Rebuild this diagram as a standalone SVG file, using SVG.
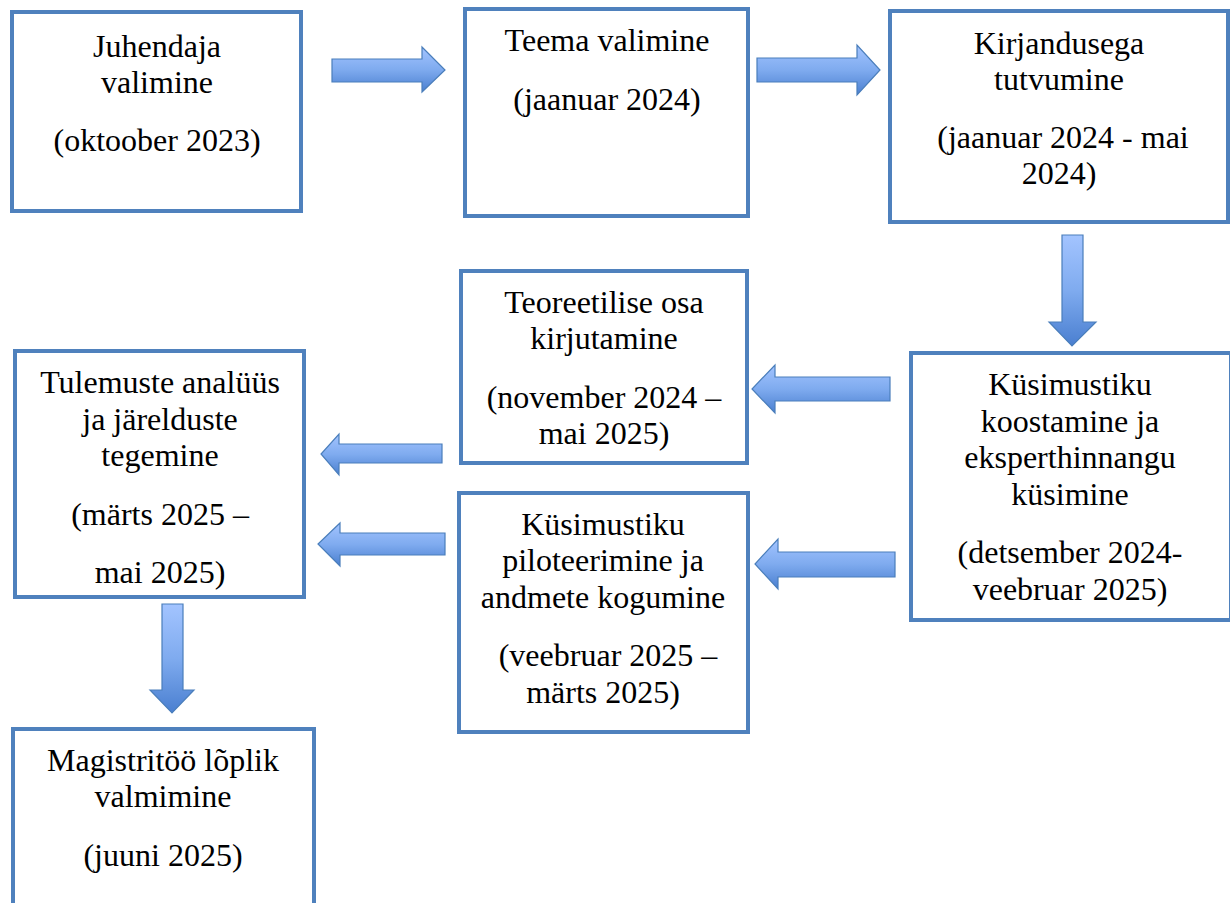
<svg xmlns="http://www.w3.org/2000/svg" width="1230" height="903" viewBox="0 0 1230 903">
<style>
.box{fill:#fff;stroke:#4f81bd;stroke-width:4}
.t{font-family:"Liberation Serif","Times New Roman",serif;font-size:32px;fill:#000;text-anchor:middle}
.arr{fill:url(#g);stroke:#4a7ebb;stroke-width:1.2}
</style>
<defs>
<linearGradient id="g" x1="0" y1="0" x2="0" y2="1">
<stop offset="0" stop-color="#a3c4ff"/>
<stop offset="0.5" stop-color="#7fabef"/>
<stop offset="1" stop-color="#4a7fd0"/>
</linearGradient>
</defs>
<rect width="1230" height="903" fill="#fff"/>
<g id="connectors">
<path class="arr" d="M332,59 H422 V47 L445,70 L422,92 V82 H332 Z"/>
<path class="arr" d="M757,58 H857 V45 L880,70 L857,95 V82 H757 Z"/>
<path class="arr" d="M1062,235 H1083 V322 H1096 L1072,346 L1049,322 H1062 Z"/>
<path class="arr" d="M890,377 H775 V365 L752,389 L775,413 V401 H890 Z"/>
<path class="arr" d="M442,444 H339 V434 L321,454 L339,475 V463 H442 Z"/>
<path class="arr" d="M445,533 H340 V523 L318,544 L340,566 V555 H445 Z"/>
<path class="arr" d="M895,552 H778 V539 L755,564 L778,589 V577 H895 Z"/>
<path class="arr" d="M162,604 H183 V690 H194 L172,713 L150,690 H162 Z"/>
</g>
<g id="n1">
<rect class="box" x="12" y="12" width="289" height="199"/>
<text class="t" x="157" y="57">Juhendaja</text>
<text class="t" x="157" y="93">valimine</text>
<text class="t" x="157" y="151">(oktoober 2023)</text>
</g>
<g id="n2">
<rect class="box" x="465" y="9" width="283" height="207"/>
<text class="t" x="607" y="51">Teema valimine</text>
<text class="t" x="607" y="110">(jaanuar 2024)</text>
</g>
<g id="n3">
<rect class="box" x="890" y="11" width="338" height="211"/>
<text class="t" x="1059" y="54">Kirjandusega</text>
<text class="t" x="1059" y="90">tutvumine</text>
<text class="t" x="1063" y="148">(jaanuar 2024 - mai</text>
<text class="t" x="1059" y="184">2024)</text>
</g>
<g id="n4">
<rect class="box" x="461" y="271" width="286" height="192"/>
<text class="t" x="604" y="313">Teoreetilise osa</text>
<text class="t" x="604" y="349">kirjutamine</text>
<text class="t" x="604" y="408">(november 2024 –</text>
<text class="t" x="604" y="444">mai 2025)</text>
</g>
<g id="n5">
<rect class="box" x="911" y="353" width="320" height="267"/>
<text class="t" x="1070" y="395">Küsimustiku</text>
<text class="t" x="1070" y="432">koostamine ja</text>
<text class="t" x="1070" y="468">eksperthinnangu</text>
<text class="t" x="1070" y="505">küsimine</text>
<text class="t" x="1070" y="563">(detsember 2024-</text>
<text class="t" x="1070" y="600">veebruar 2025)</text>
</g>
<g id="n6">
<rect class="box" x="15" y="351" width="289" height="246"/>
<text class="t" x="160" y="393">Tulemuste analüüs</text>
<text class="t" x="160" y="430">ja järelduste</text>
<text class="t" x="160" y="466">tegemine</text>
<text class="t" x="160" y="525">(märts 2025 –</text>
<text class="t" x="160" y="583">mai 2025)</text>
</g>
<g id="n7">
<rect class="box" x="459" y="493" width="289" height="239"/>
<text class="t" x="603" y="535">Küsimustiku</text>
<text class="t" x="603" y="571">piloteerimine ja</text>
<text class="t" x="603" y="608">andmete kogumine</text>
<text class="t" x="608" y="666">(veebruar 2025 –</text>
<text class="t" x="603" y="703">märts 2025)</text>
</g>
<g id="n8">
<rect class="box" x="13" y="729" width="301" height="190"/>
<text class="t" x="163" y="771">Magistritöö lõplik</text>
<text class="t" x="163" y="807">valmimine</text>
<text class="t" x="163" y="866">(juuni 2025)</text>
</g>
</svg>
